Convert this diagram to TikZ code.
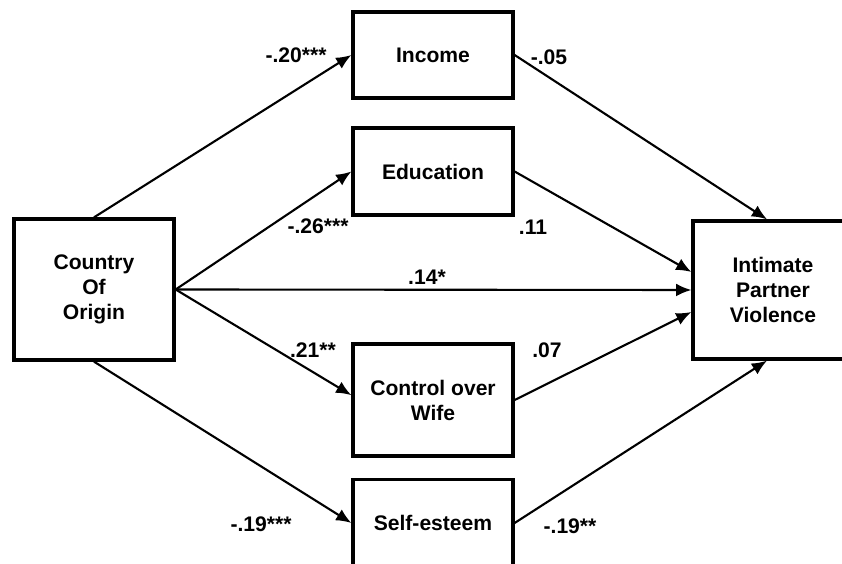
\documentclass[tikz,border=0pt]{standalone}
\usepackage{fontspec}
\setmainfont{Liberation Sans}
\usetikzlibrary{arrows.meta,positioning}

\begin{document}
\begin{tikzpicture}[x=0.025cm,y=0.025cm]
    \tikzstyle{var} = [draw, line width=2.3pt, minimum width=4cm, align=center, inner sep=2pt, font=\bfseries\fontsize{15}{17.8}\selectfont];
    \tikzstyle{coef} = [inner sep=0pt, font=\bfseries\fontsize{15}{17.8}\selectfont];
    \tikzstyle{link} = [-{Latex[length=3.8mm,width=3.2mm]}, line width=1.5pt];

    \useasboundingbox (0,0) rectangle (842,564);

    % variables
    \node[var, minimum height=3.525cm](COO) at (94,274.5) {Country\\Of\\Origin};
    \node[var, minimum height=2.15cm](INC) at (433,509) {Income};
    \node[var, minimum height=2.175cm](EDU) at (433,392.5) {Education};
    \node[var, minimum height=2.8cm](CTL) at (433,164) {Control over\\Wife};
    \node[var, minimum height=2.175cm](SLF) at (433,41) {Self-esteem};
    \node[var, minimum height=3.45cm](IPV) at (773,274) {Intimate\\Partner\\Violence};

    % paths
    \draw[link] (COO.north) -- (INC.west);
    \draw[link] (COO.east) -- (EDU.west);
    \draw[link] (COO.east) -- (IPV.west);
    \draw[link] (COO.east) -- ([yshift=0.12cm]CTL.west);
    \draw[link] (COO.south) -- (SLF.west);
    \draw[link] (INC.east) -- ([xshift=-0.15cm]IPV.north);
    \draw[link] (EDU.east) -- ([yshift=0.45cm]IPV.west);
    \draw[link] (CTL.east) -- ([yshift=-0.55cm]IPV.west);
    \draw[link] (SLF.east) -- ([xshift=-0.15cm]IPV.south);

    % coefficients
    \node[coef](c1) at (296,509) {-.20***};
    \node[coef](c2) at (549,507) {-.05};
    \node[coef](c3) at (318,338) {-.26***};
    \node[coef](c4) at (533,337) {.11};
    \node[coef](c5) at (427,287) {.14*};
    \node[coef](c6) at (313,214) {.21**};
    \node[coef](c7) at (547,214) {.07};
    \node[coef](c8) at (261,40) {-.19***};
    \node[coef](c9) at (570,38) {-.19**};
\end{tikzpicture}
\end{document}
